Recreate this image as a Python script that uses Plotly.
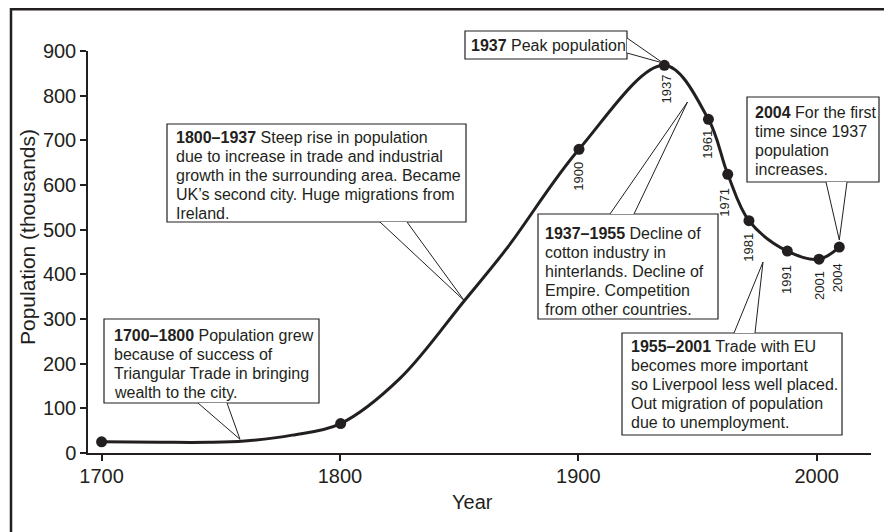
import plotly.graph_objects as go

# ---------------- data ----------------
marked_years = [1700, 1800.3, 1900.3, 1936.1, 1954.6, 1962.7, 1971.6, 1987.7, 2001.0, 2009.5]
marked_pop = [25, 66, 680, 868, 747, 624, 520, 452, 434, 461]
marked_labels = ["", "", "1900", "1937", "1961", "1971", "1981", "1991", "2001", "2004"]

curve_years = [1700, 1725, 1745, 1760, 1780, 1800.3, 1825.2, 1852.2, 1870, 1900.3,
               1936.1, 1954.6, 1962.7, 1971.6, 1987.7, 2001.0, 2009.5]
curve_pop = [25, 24, 24, 27, 40, 66, 167, 341, 458, 680,
             868, 747, 624, 520, 452, 434, 461]

x_ticks = [1700, 1800, 1900, 2000]
y_ticks = [0, 100, 200, 300, 400, 500, 600, 700, 800, 900]

callout_texts = [
    ["<b>1800–1937</b> Steep rise in population", "due to increase in trade and industrial",
     "growth in the surrounding area. Became", "UK’s second city. Huge migrations from", "Ireland."],
    ["<b>1700–1800</b> Population grew", "because of success of",
     "Triangular Trade in bringing", "wealth to the city."],
    ["<b>1937</b> Peak population"],
    ["<b>1937–1955</b> Decline of", "cotton industry in", "hinterlands. Decline of",
     "Empire. Competition", "from other countries."],
    ["<b>1955–2001</b> Trade with EU", "becomes more important", "so Liverpool less well placed.",
     "Out migration of population", "due to unemployment."],
    ["<b>2004</b> For the first", "time since 1937", "population", "increases."],
]

# ---------------- layout geometry ----------------
# The page body adds an 8px offset, so the figure is sized to fill the rest of the window.
OFF = 8
WIDTH, HEIGHT = 892 - OFF, 532 - OFF
PLOT_L, PLOT_R, PLOT_T, PLOT_B = 88, 871, 51, 453   # plot area in window pixels
ML, MR, MT, MB = PLOT_L - OFF, 892 - PLOT_R, PLOT_T - OFF, 532 - PLOT_B
PW = PLOT_R - PLOT_L
PH = PLOT_B - PLOT_T
XR = [1694.3, 2022.8]
YR = [0, 900]

def PX(px):
    return (px - PLOT_L) / PW

def PY(py):
    return (PLOT_B - py) / PH

INK = "#231f20"
FONT = "Liberation Sans, Arial, sans-serif"
LINE_GAP = 19
TXT_SIZE = 16

# per-label pixel nudges (x, y) for the rotated year labels
label_dx = [0, 0, 0, 1.7, -0.6, -2.7, -0.7, -0.6, 0.3, -1]
label_dy = [0, 0, -12, -8.7, -9, -13, -11.3, -12.7, -11, -15.3]

# box rect (x0,y0,x1,y1), tail base points, tip, text (left, first-line cap top) in window pixels
callout_geom = [
    dict(box=(167, 124, 466, 222), base=[(380, 222), (407, 222)], tip=(464.3, 300.7), txt=(175, 132)),
    dict(box=(104, 319, 319, 403), base=[(198, 403), (227, 403)], tip=(240, 439.3), txt=(113, 330)),
    dict(box=(465, 31, 627, 59), base=[(627, 38), (627, 53)], tip=(663, 63), txt=(470, 40)),
    dict(box=(538, 214, 718, 319), base=[(610, 214), (634, 214)], tip=(687.5, 102), txt=(544, 228)),
    dict(box=(622, 333, 842, 435), base=[(734, 333), (755, 333)], tip=(763, 262), txt=(630, 341)),
    dict(box=(747, 97, 879, 182), base=[(826, 182), (847, 182)], tip=(839.3, 240), txt=(754, 107)),
]

fig = go.Figure()

fig.add_trace(go.Scatter(
    x=curve_years, y=curve_pop, mode="lines",
    line=dict(color=INK, width=3, shape="spline", smoothing=1.0),
    hoverinfo="skip", showlegend=False,
))
fig.add_trace(go.Scatter(
    x=marked_years, y=marked_pop, mode="markers",
    marker=dict(color=INK, size=11),
    showlegend=False,
))

shapes = []
# outer frame
shapes.append(dict(type="rect", xref="paper", yref="paper",
                   x0=PX(11), x1=PX(887), y0=PY(560), y1=PY(9.3),
                   line=dict(color=INK, width=2.5), fillcolor="rgba(0,0,0,0)", layer="below"))

annotations = []
for g, lines in zip(callout_geom, callout_texts):
    x0, y0, x1, y1 = g["box"]
    shapes.append(dict(type="rect", xref="paper", yref="paper",
                       x0=PX(x0), x1=PX(x1), y0=PY(y1), y1=PY(y0),
                       line=dict(color=INK, width=1.2), fillcolor="white", layer="above"))
    (ax, ay), (bx, by) = g["base"]
    tx, ty = g["tip"]
    path = f"M {PX(ax)},{PY(ay)} L {PX(tx)},{PY(ty)} L {PX(bx)},{PY(by)}"
    shapes.append(dict(type="path", xref="paper", yref="paper", path=path,
                       line=dict(color=INK, width=1), fillcolor="white", layer="above"))
    tl, tt = g["txt"]
    for i, line in enumerate(lines):
        cap_mid = tt + LINE_GAP * i + 5.5
        annotations.append(dict(
            x=PX(tl), y=PY(cap_mid), xref="paper", yref="paper",
            xanchor="left", yanchor="middle", align="left", showarrow=False,
            text=line, font=dict(family=FONT, size=TXT_SIZE, color=INK), borderpad=0,
        ))

for yr, p, lab, dx, dy in zip(marked_years, marked_pop, marked_labels, label_dx, label_dy):
    if not lab:
        continue
    annotations.append(dict(
        x=yr, y=p, xref="x", yref="y", text=lab, textangle=-90,
        xanchor="center", yanchor="top", yshift=dy, xshift=dx, showarrow=False,
        font=dict(family=FONT, size=13, color=INK), borderpad=0,
    ))

# axis titles
annotations.append(dict(x=PX(472), y=PY(502), xref="paper", yref="paper", text="Year",
                        showarrow=False, xanchor="center", yanchor="middle",
                        font=dict(family=FONT, size=20, color=INK)))
annotations.append(dict(x=PX(27), y=PY(237), xref="paper", yref="paper",
                        text="Population (thousands)", textangle=-90,
                        showarrow=False, xanchor="center", yanchor="middle",
                        font=dict(family=FONT, size=21, color=INK)))

fig.update_layout(
    width=WIDTH, height=HEIGHT,
    margin=dict(l=ML, r=MR, t=MT, b=MB, pad=0),
    paper_bgcolor="white", plot_bgcolor="white",
    font=dict(family=FONT, color=INK),
    showlegend=False,
    shapes=shapes, annotations=annotations,
    xaxis=dict(range=XR, tickvals=x_ticks, ticktext=[str(v) for v in x_ticks],
               showline=True, linecolor=INK, linewidth=1.5, mirror=False,
               ticks="outside", ticklen=6, tickwidth=1.5, tickcolor=INK,
               showgrid=False, zeroline=False, ticklabelstandoff=-2,
               tickfont=dict(family=FONT, size=20, color=INK)),
    yaxis=dict(range=YR, tickvals=y_ticks,
               showline=True, linecolor=INK, linewidth=1.5,
               ticks="outside", ticklen=6, tickwidth=1.5, tickcolor=INK,
               showgrid=False, zeroline=False, ticklabelstandoff=0,
               tickfont=dict(family=FONT, size=20, color=INK)),
)

fig.write_html("out.html")
